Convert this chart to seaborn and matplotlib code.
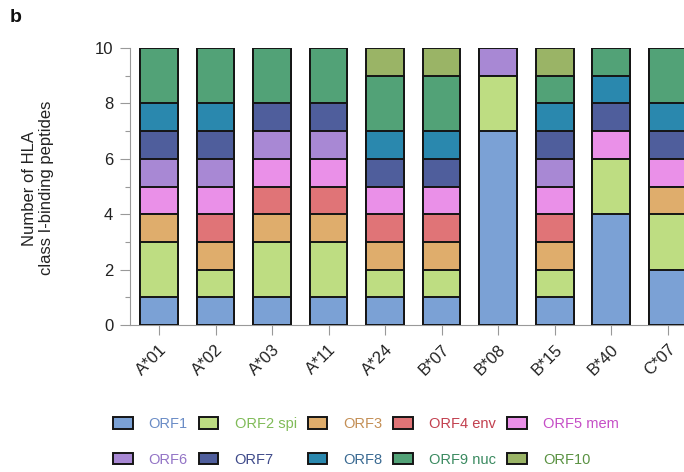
import numpy as np
import pandas as pd
import matplotlib
matplotlib.use("Agg")
import matplotlib.pyplot as plt
from matplotlib.patches import Patch
import seaborn as sns

# HLA class I alleles and ORF sources of the binding peptides
alleles = ["A*01", "A*02", "A*03", "A*11", "A*24", "B*07", "B*08", "B*15", "B*40", "C*07"]
orfs = ["ORF1", "ORF2 spi", "ORF3", "ORF4 env", "ORF5 mem",
        "ORF6", "ORF7", "ORF8", "ORF9 nuc", "ORF10"]

# peptide counts per allele (stacked bottom -> top in ORF order)
orf1 = [1, 1, 1, 1, 1, 1, 7, 1, 4, 2]
orf2 = [2, 1, 2, 2, 1, 1, 2, 1, 2, 2]
orf3 = [1, 1, 1, 1, 1, 1, 0, 1, 0, 1]
orf4 = [0, 1, 1, 1, 1, 1, 0, 1, 0, 0]
orf5 = [1, 1, 1, 1, 1, 1, 0, 1, 1, 1]
orf6 = [1, 1, 1, 1, 0, 0, 1, 1, 0, 0]
orf7 = [1, 1, 1, 1, 1, 1, 0, 1, 1, 1]
orf8 = [1, 1, 0, 0, 1, 1, 0, 1, 1, 1]
orf9 = [2, 2, 2, 2, 2, 2, 0, 1, 1, 2]
orf10 = [0, 0, 0, 0, 1, 1, 0, 1, 0, 0]

fill_colors = ["#7ba1d5", "#bedd82", "#dfad6c", "#e07477", "#ea90e8",
               "#a888d4", "#4f5e9c", "#2a88ae", "#52a277", "#9ab466"]
text_colors = ["#6a8cc6", "#80bb58", "#c48f55", "#c2404f", "#c54ec6",
               "#9374c6", "#3e4a8a", "#3a6a92", "#3a8a60", "#5a9242"]

counts = pd.DataFrame(
    np.array([orf1, orf2, orf3, orf4, orf5, orf6, orf7, orf8, orf9, orf10]).T,
    index=alleles, columns=orfs)
cumulative = counts.cumsum(axis=1)

sns.set_style("ticks")
plt.rcParams["font.family"] = ["Liberation Sans", "DejaVu Sans"]

fig = plt.figure(figsize=(6.84, 4.72), dpi=100)
ax = fig.add_axes([130 / 684, 1 - 325 / 472, 554 / 684, 277 / 472])

# stacked bars drawn as overlapping cumulative totals, top layer first
for k in range(len(orfs) - 1, -1, -1):
    sns.barplot(x=alleles, y=cumulative[orfs[k]].values, color=fill_colors[k],
                saturation=1, width=0.67, edgecolor="#151515", linewidth=1.4,
                errorbar=None, ax=ax, zorder=3)

ax.set_xlim(-0.513, 9.29)
ax.set_ylim(0, 10)
ax.set_yticks([0, 2, 4, 6, 8, 10])
ax.set_yticks([1, 3, 5, 7, 9], minor=True)
ax.tick_params(axis="y", which="major", length=7, width=0.8, color="#999999",
               labelsize=12, pad=5, labelcolor="#222222")
ax.tick_params(axis="y", which="minor", length=3.5, width=0.8, color="#999999")
ax.tick_params(axis="x", length=7, width=0.8, color="#999999",
               labelsize=12, pad=5, labelcolor="#222222")
plt.setp(ax.get_xticklabels(), rotation=45, ha="right", rotation_mode="anchor")
ax.set_xlabel("")
ax.set_ylabel("")

for side in ("top", "right"):
    ax.spines[side].set_visible(False)
for side in ("left", "bottom"):
    ax.spines[side].set_color("#999999")
    ax.spines[side].set_linewidth(0.8)
ax.spines["bottom"].set_zorder(1)

fig.text(38 / 684, 1 - 188 / 472, "Number of HLA\nclass I-binding peptides",
         rotation=90, ha="center", va="center", fontsize=12, color="#222222",
         linespacing=1.1)
fig.text(10 / 684, 1 - 17 / 472, "b", fontsize=14, fontweight="bold",
         ha="left", va="center", color="#111111")

# legend laid out column by column: ORF1-5 in the first row, ORF6-10 in the second
order = [0, 5, 1, 6, 2, 7, 3, 8, 4, 9]
handles = [Patch(facecolor=fill_colors[i], edgecolor="#151515", linewidth=1.4)
           for i in order]
labels = [orfs[i] for i in order]
leg = fig.legend(handles, labels, ncol=5, loc="upper left",
                 bbox_to_anchor=(113 / 684, 1 - 417 / 472), frameon=False,
                 fontsize=10.5, handlelength=1.35, handleheight=0.8,
                 handletextpad=1.1, columnspacing=0.75, labelspacing=1.5,
                 borderpad=0, borderaxespad=0)
for txt, i in zip(leg.get_texts(), order):
    txt.set_color(text_colors[i])

fig.savefig("out.png", dpi=100)
